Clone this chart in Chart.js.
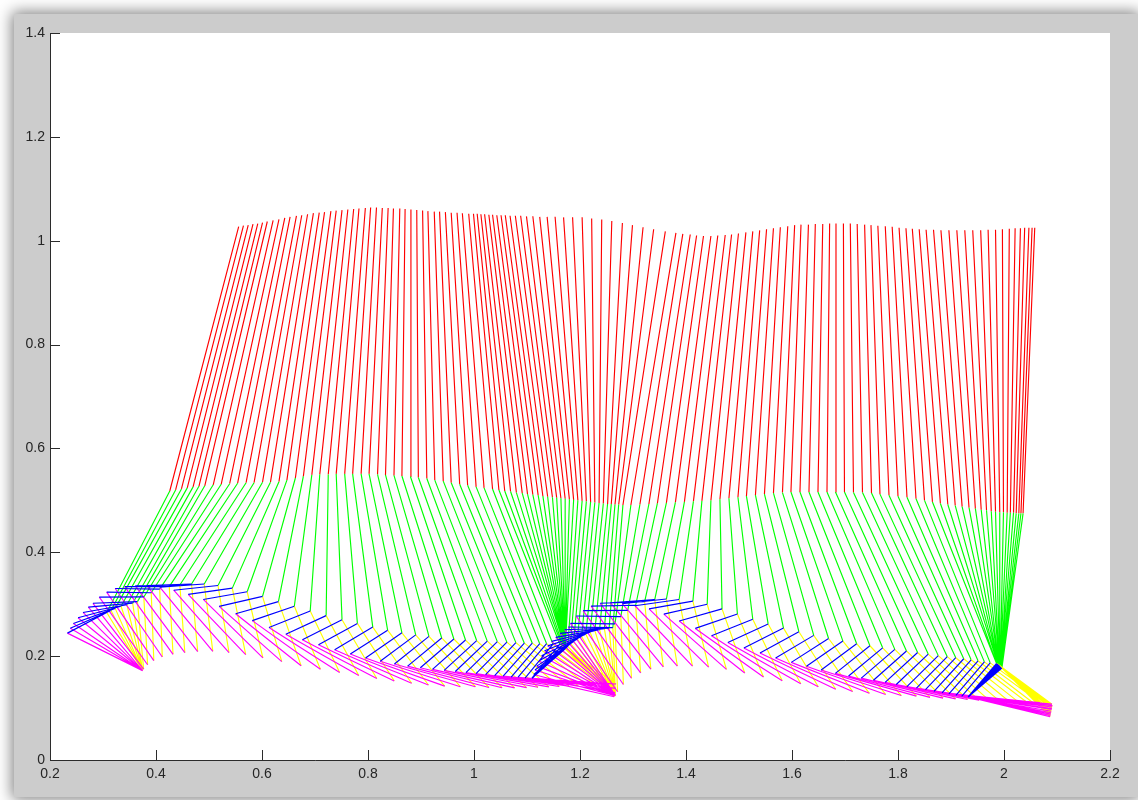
<!DOCTYPE html>
<html>
<head>
<meta charset="utf-8">
<script src="https://cdn.jsdelivr.net/npm/chart.js@4"></script>
<style>
	html, body { margin: 0; background: #ffffff; }
	#win {
		position: absolute; left: 14px; top: 14px; width: 1124px; height: 783px;
		background: #cccccc; box-shadow: 0 0 14px 2px rgba(0, 0, 0, 0.5);
	}
	#gait { position: absolute; left: 0; top: 0; }
</style>
</head>
<body>
<div id="win"></div>
<canvas id="gait" width="1138" height="800"></canvas>
<script>
// one stick figure per frame: hip, head, ankle and the foot angle (deg, heel -> toe)
const hipX = [
	0.426, 0.437, 0.448, 0.459, 0.470, 0.481,
	0.492, 0.508, 0.523, 0.539, 0.554, 0.570, 0.585, 0.601, 0.616, 0.632, 0.647, 0.663, 0.678, 0.694, 0.709, 0.725, 0.740, 0.756, 0.771, 0.787, 0.802, 0.818, 0.833, 0.849, 0.864, 0.880, 0.895, 0.911, 0.926, 0.942, 0.957, 0.973, 0.988, 1.004, 1.019, 1.035,
	1.047, 1.058, 1.069, 1.080, 1.091, 1.101, 1.111, 1.121, 1.130, 1.139, 1.148, 1.156, 1.164, 1.172, 1.180, 1.188, 1.196, 1.204, 1.212, 1.220, 1.228, 1.236, 1.244, 1.252, 1.259, 1.266, 1.273, 1.281,
	1.296, 1.313, 1.330, 1.346, 1.363, 1.380, 1.397, 1.414, 1.430, 1.447, 1.464, 1.481, 1.498, 1.514, 1.531, 1.548, 1.565, 1.582, 1.598, 1.615, 1.632, 1.649, 1.666, 1.682, 1.699, 1.716, 1.733, 1.750, 1.766, 1.783, 1.800, 1.817, 1.834, 1.850,
	1.865, 1.880, 1.894, 1.908, 1.921, 1.934, 1.946, 1.957, 1.967, 1.976, 1.984, 1.992, 1.999, 2.006, 2.012, 2.018, 2.023, 2.028, 2.032, 2.036
];
const hipY = [
	0.518, 0.520, 0.522, 0.524, 0.526, 0.527,
	0.528, 0.530, 0.531, 0.532, 0.533, 0.534, 0.534, 0.535, 0.535, 0.536, 0.539, 0.543, 0.546, 0.549, 0.550, 0.550, 0.551, 0.551, 0.551, 0.551, 0.551, 0.550, 0.549, 0.548, 0.547, 0.546, 0.544, 0.542, 0.539, 0.537, 0.534, 0.531, 0.529, 0.526, 0.524, 0.522,
	0.520, 0.518, 0.517, 0.515, 0.514, 0.512, 0.511, 0.510, 0.508, 0.507, 0.506, 0.505, 0.504, 0.503, 0.502, 0.501, 0.500, 0.499, 0.498, 0.497, 0.496, 0.495, 0.494, 0.493, 0.493, 0.492, 0.492, 0.491,
	0.491, 0.492, 0.493, 0.494, 0.495, 0.496, 0.497, 0.498, 0.499, 0.500, 0.502, 0.504, 0.506, 0.508, 0.510, 0.512, 0.514, 0.515, 0.516, 0.516, 0.516, 0.516, 0.516, 0.516, 0.516, 0.515, 0.515, 0.514, 0.512, 0.510, 0.508, 0.506, 0.503, 0.500,
	0.497, 0.494, 0.492, 0.490, 0.488, 0.486, 0.484, 0.482, 0.481, 0.479, 0.478, 0.477, 0.477, 0.476, 0.476, 0.476, 0.475, 0.475, 0.475, 0.475
];
const headX = [
	0.556, 0.565, 0.574, 0.583, 0.592, 0.601,
	0.610, 0.621, 0.632, 0.643, 0.653, 0.665, 0.675, 0.686, 0.697, 0.708, 0.718, 0.730, 0.740, 0.751, 0.762, 0.773, 0.783, 0.795, 0.805, 0.816, 0.827, 0.838, 0.848, 0.860, 0.870, 0.881, 0.892, 0.903, 0.913, 0.925, 0.935, 0.946, 0.957, 0.968, 0.978, 0.990,
	0.999, 1.006, 1.013, 1.020, 1.028, 1.035, 1.043, 1.051, 1.059, 1.068, 1.078, 1.088, 1.099, 1.111, 1.124, 1.138, 1.153, 1.169, 1.186, 1.204, 1.222, 1.241, 1.260, 1.280, 1.299, 1.319, 1.339, 1.361,
	1.381, 1.394, 1.408, 1.420, 1.433, 1.447, 1.460, 1.474, 1.486, 1.499, 1.513, 1.526, 1.539, 1.552, 1.565, 1.578, 1.592, 1.605, 1.617, 1.631, 1.644, 1.658, 1.671, 1.683, 1.697, 1.710, 1.723, 1.737, 1.749, 1.762, 1.776, 1.789, 1.802, 1.815,
	1.827, 1.840, 1.853, 1.867, 1.881, 1.896, 1.911, 1.926, 1.941, 1.956, 1.970, 1.984, 1.997, 2.010, 2.021, 2.031, 2.039, 2.047, 2.053, 2.058
];
const headY = [
	1.027, 1.029, 1.030, 1.032, 1.033, 1.035,
	1.037, 1.039, 1.041, 1.044, 1.046, 1.048, 1.049, 1.051, 1.053, 1.054, 1.055, 1.057, 1.058, 1.059, 1.060, 1.061, 1.062, 1.063, 1.064, 1.064, 1.063, 1.063, 1.062, 1.062, 1.061, 1.060, 1.059, 1.058, 1.057, 1.056, 1.056, 1.055, 1.054, 1.054, 1.053, 1.052,
	1.052, 1.052, 1.051, 1.051, 1.050, 1.050, 1.049, 1.049, 1.049, 1.048, 1.048, 1.048, 1.047, 1.047, 1.046, 1.046, 1.046, 1.045, 1.045, 1.045, 1.043, 1.041, 1.038, 1.034, 1.030, 1.026, 1.022, 1.018,
	1.015, 1.013, 1.012, 1.010, 1.009, 1.009, 1.010, 1.011, 1.012, 1.014, 1.016, 1.018, 1.020, 1.022, 1.024, 1.026, 1.028, 1.030, 1.031, 1.031, 1.032, 1.032, 1.033, 1.033, 1.033, 1.033, 1.032, 1.031, 1.030, 1.029, 1.028, 1.027, 1.025, 1.024,
	1.023, 1.022, 1.021, 1.021, 1.020, 1.020, 1.020, 1.020, 1.020, 1.020, 1.021, 1.021, 1.022, 1.023, 1.024, 1.024, 1.025, 1.025, 1.025, 1.025
];
const ankleX = [
	0.307, 0.315, 0.323, 0.334, 0.345, 0.356,
	0.365, 0.377, 0.391, 0.407, 0.425, 0.445, 0.467, 0.491, 0.517, 0.544, 0.572, 0.601, 0.631, 0.661, 0.691, 0.721, 0.751, 0.780, 0.809, 0.837, 0.864, 0.890, 0.915, 0.939, 0.962, 0.984, 1.005, 1.025, 1.044, 1.062, 1.079, 1.095, 1.110, 1.124, 1.137, 1.149,
	1.162, 1.166, 1.169, 1.172, 1.172, 1.172, 1.172, 1.172, 1.172, 1.172, 1.172, 1.172, 1.172, 1.172, 1.172, 1.172, 1.177, 1.182, 1.188, 1.195, 1.203, 1.211, 1.219, 1.228, 1.237, 1.246, 1.255, 1.262,
	1.266, 1.277, 1.290, 1.305, 1.322, 1.341, 1.363, 1.387, 1.413, 1.440, 1.468, 1.497, 1.526, 1.555, 1.584, 1.613, 1.641, 1.669, 1.696, 1.722, 1.747, 1.771, 1.794, 1.816, 1.837, 1.857, 1.876, 1.893, 1.909, 1.924, 1.938, 1.951, 1.963, 1.974,
	1.986, 1.986, 1.988, 1.988, 1.989, 1.989, 1.990, 1.990, 1.991, 1.991, 1.992, 1.992, 1.993, 1.993, 1.994, 1.994, 1.995, 1.995, 1.996, 1.996
];
const ankleY = [
	0.284, 0.288, 0.292, 0.296, 0.299, 0.302,
	0.305, 0.314, 0.322, 0.329, 0.334, 0.337, 0.339, 0.339, 0.336, 0.331, 0.324, 0.315, 0.305, 0.296, 0.287, 0.278, 0.270, 0.263, 0.256, 0.250, 0.245, 0.241, 0.238, 0.235, 0.233, 0.231, 0.230, 0.229, 0.228, 0.227, 0.226, 0.225, 0.225, 0.224, 0.224, 0.223,
	0.223, 0.220, 0.217, 0.214, 0.214, 0.214, 0.214, 0.214, 0.214, 0.214, 0.214, 0.214, 0.214, 0.214, 0.214, 0.214, 0.219, 0.224, 0.228, 0.233, 0.238, 0.242, 0.246, 0.249, 0.251, 0.253, 0.254, 0.255,
	0.262, 0.276, 0.288, 0.298, 0.305, 0.309, 0.310, 0.309, 0.306, 0.300, 0.291, 0.281, 0.271, 0.262, 0.254, 0.247, 0.240, 0.234, 0.229, 0.224, 0.220, 0.216, 0.213, 0.210, 0.207, 0.204, 0.201, 0.199, 0.197, 0.195, 0.193, 0.191, 0.189, 0.187,
	0.186, 0.186, 0.185, 0.185, 0.184, 0.184, 0.183, 0.183, 0.183, 0.183, 0.181, 0.181, 0.180, 0.180, 0.179, 0.179, 0.178, 0.178, 0.177, 0.177
];
const footAng = [
	-27, -31, -35, -40, -45, -50,
	-53, -55, -56, -56, -55, -54, -53, -51, -49, -47, -45, -42, -39, -36, -33, -30, -28, -26, -24, -22, -20, -18, -16, -15, -14, -13, -12, -11, -10, -9, -8, -7, -6, -5, -5, -4,
	-4, -7, -10, -13, -13, -13, -13, -13, -13, -13, -13, -13, -13, -13, -13, -13, -15, -18, -21, -25, -29, -33, -37, -41, -45, -49, -53, -56,
	-56, -56, -55, -54, -53, -51, -49, -47, -45, -42, -39, -36, -33, -30, -28, -26, -24, -22, -20, -18, -16, -15, -14, -13, -12, -11, -10, -9, -8, -7, -6, -6, -5, -5,
	-5, -5, -6, -6, -7, -7, -8, -8, -9, -9, -10, -10, -11, -11, -12, -12, -13, -13, -14, -14
];
const xTicks = [0.2, 0.4, 0.6, 0.8, 1, 1.2, 1.4, 1.6, 1.8, 2, 2.2];
const yTicks = [0, 0.2, 0.4, 0.6, 0.8, 1, 1.2, 1.4];

// foot triangle in the foot frame (along sole, normal to sole), relative to the ankle
const HEEL = [-0.048, -0.069];
const TOE = [0.111, -0.069];

const trunk = [], leg = [], heelSeg = [], toeSeg = [], sole = [];
for (let i = 0; i < hipX.length; i++) {
	const a = (footAng[i] * Math.PI) / 180;
	const ux = Math.cos(a), uy = Math.sin(a);
	const nx = -uy, ny = ux;
	const ank = { x: ankleX[i], y: ankleY[i] };
	const heel = { x: ank.x + HEEL[0] * ux + HEEL[1] * nx, y: ank.y + HEEL[0] * uy + HEEL[1] * ny };
	const toe = { x: ank.x + TOE[0] * ux + TOE[1] * nx, y: ank.y + TOE[0] * uy + TOE[1] * ny };
	const hip = { x: hipX[i], y: hipY[i] };
	const brk = { x: hip.x, y: null };

	trunk.push(hip, { x: headX[i], y: headY[i] }, brk);
	leg.push(hip, ank, brk);
	heelSeg.push(ank, heel, brk);
	toeSeg.push(ank, toe, brk);
	sole.push(heel, toe, brk);
}

function seg(data, color, order) {
	return {
		data: data,
		showLine: true,
		borderColor: color,
		borderWidth: 1.15,
		pointRadius: 0,
		pointHitRadius: 0,
		spanGaps: false,
		fill: false,
		order: order,
	};
}

const fmt = (v) => String(Math.round(v * 10) / 10);

// white axes box + ticks pointing inward, like the MATLAB figure
const matlabAxes = {
	id: 'matlabAxes',
	beforeDraw(chart) {
		const c = chart.ctx, a = chart.chartArea;
		c.save();
		c.fillStyle = '#ffffff';
		c.fillRect(a.left, a.top, a.right - a.left, a.bottom - a.top);
		c.restore();
	},
	afterDraw(chart) {
		const c = chart.ctx, a = chart.chartArea;
		const sx = chart.scales.x, sy = chart.scales.y;
		c.save();
		c.strokeStyle = '#2b2b2b';
		c.lineWidth = 1;
		c.beginPath();
		xTicks.forEach((t) => {
			const p = Math.round(sx.getPixelForValue(t)) + 0.5;
			c.moveTo(p, a.bottom);
			c.lineTo(p, a.bottom - 10);
		});
		yTicks.forEach((t) => {
			const p = Math.round(sy.getPixelForValue(t)) + 0.5;
			c.moveTo(a.left, p);
			c.lineTo(a.left + 10, p);
		});
		c.stroke();
		c.restore();
	},
};

const tickFont = { family: "'Liberation Sans', Arial, sans-serif", size: 14 };

new Chart(document.getElementById('gait').getContext('2d'), {
	type: 'scatter',
	data: {
		datasets: [
			seg(trunk, '#ff0000', 5),
			seg(leg, '#00ff00', 4),
			seg(toeSeg, '#ffff00', 3),
			seg(sole, '#ff00ff', 2),
			seg(heelSeg, '#0000ff', 1),
		],
	},
	options: {
		responsive: false,
		animation: false,
		events: [],
		layout: { padding: { left: 0, right: 28, top: 33, bottom: 0 } },
		plugins: { legend: { display: false }, tooltip: { enabled: false } },
		scales: {
			x: {
				type: 'linear',
				min: 0.2,
				max: 2.2,
				afterFit: (s) => { s.height = 40; },
				afterBuildTicks: (s) => { s.ticks = xTicks.map((v) => ({ value: v })); },
				grid: { drawOnChartArea: false, drawTicks: false },
				border: { display: true, color: '#2b2b2b', width: 1 },
				ticks: { callback: fmt, padding: 6, color: '#262626', font: tickFont, maxRotation: 0, autoSkip: false },
			},
			y: {
				type: 'linear',
				min: 0,
				max: 1.4,
				afterFit: (s) => { s.width = 50; },
				afterBuildTicks: (s) => { s.ticks = yTicks.map((v) => ({ value: v })); },
				grid: { drawOnChartArea: false, drawTicks: false },
				border: { display: true, color: '#2b2b2b', width: 1 },
				ticks: { callback: fmt, padding: 5, color: '#262626', font: tickFont, autoSkip: false },
			},
		},
	},
	plugins: [matlabAxes],
});
</script>
</body>
</html>
